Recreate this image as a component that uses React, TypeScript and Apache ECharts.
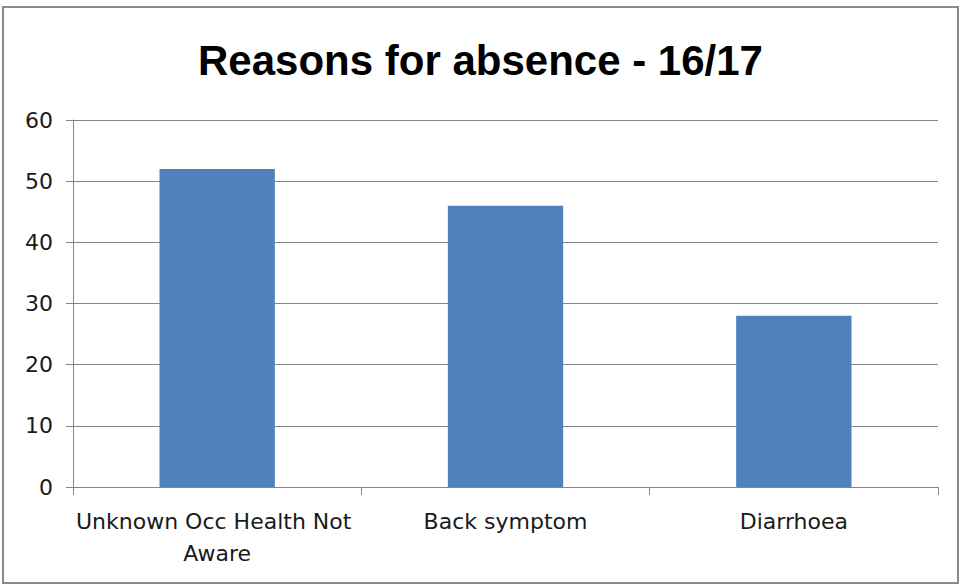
import React, { useEffect, useRef } from "react";
import * as echarts from "echarts";

const categories = ["Unknown Occ Health Not Aware", "Back symptom", "Diarrhoea"];
const values = [52, 46, 28];
const titleText = "Reasons for absence - 16/17";

export default function App() {
  const ref = useRef<HTMLDivElement>(null);
  useEffect(() => {
    document.body.style.margin = "0";
    const chart = echarts.init(ref.current!, null, { renderer: "svg" });
    chart.setOption({
      animation: false,
      backgroundColor: "#ffffff",
      title: {
        text: titleText,
        left: "center",
        top: 34,
        textStyle: {
          fontFamily: "Liberation Sans, Arial, sans-serif",
          fontWeight: "bold",
          fontSize: 42,
          color: "#000000",
        },
      },
      graphic: [
        {
          type: "rect",
          shape: { x: 3, y: 7, width: 955, height: 576 },
          style: { fill: "none", stroke: "#8a8a8a", lineWidth: 2 },
          silent: true,
        },
      ],
      grid: { left: 73, right: 23, top: 120, bottom: 98 },
      xAxis: {
        type: "category",
        data: categories,
        axisLine: { show: true, lineStyle: { color: "#868686", width: 1 } },
        axisTick: { show: true, length: 8, lineStyle: { color: "#868686" } },
        axisLabel: {
          interval: 0,
          margin: 18,
          width: 288,
          overflow: "break",
          fontFamily: "DejaVu Sans, sans-serif",
          fontSize: 22,
          lineHeight: 32,
          color: "#1a1a1a",
        },
        splitLine: { show: false },
      },
      yAxis: {
        type: "value",
        min: 0,
        max: 60,
        interval: 10,
        axisLine: { show: true, lineStyle: { color: "#868686", width: 1 } },
        axisTick: { show: true, length: 7, lineStyle: { color: "#868686" } },
        axisLabel: {
          margin: 20,
          fontFamily: "DejaVu Sans, sans-serif",
          fontSize: 22,
          color: "#1a1a1a",
        },
        splitLine: { show: true, lineStyle: { color: "#868686", width: 1 } },
      },
      series: [
        {
          type: "bar",
          data: values,
          barCategoryGap: "60%",
          itemStyle: { color: "#4F81BD" },
        },
      ],
    });
    return () => chart.dispose();
  }, []);
  return <div ref={ref} style={{ width: 961, height: 585 }} />;
}
